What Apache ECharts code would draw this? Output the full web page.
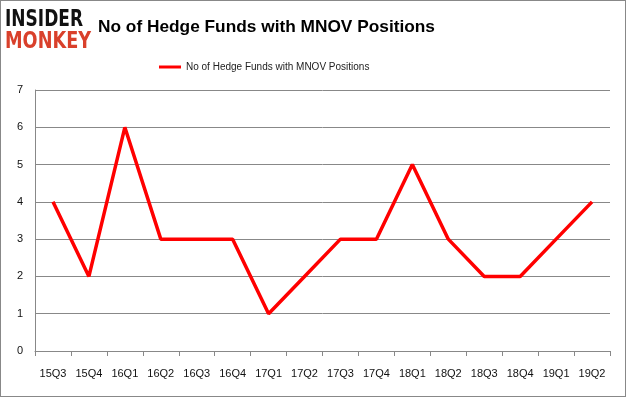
<!DOCTYPE html>
<html>
<head>
<meta charset="utf-8">
<script src="https://cdn.jsdelivr.net/npm/echarts@6/dist/echarts.min.js"></script>
<style>
  html, body { margin: 0; padding: 0; background: #fff; }
  #chart { width: 626px; height: 397px; box-sizing: border-box; border: 1px solid #888; }
</style>
</head>
<body>
<div id="chart"></div>
<script>
const quarters = ['15Q3', '15Q4', '16Q1', '16Q2', '16Q3', '16Q4', '17Q1', '17Q2',
  '17Q3', '17Q4', '18Q1', '18Q2', '18Q3', '18Q4', '19Q1', '19Q2']
const fundCounts = [4, 2, 6, 3, 3, 3, 1, 2, 3, 3, 5, 3, 2, 2, 3, 4]
const seriesName = 'No of Hedge Funds with MNOV Positions'

let myCharts = echarts.init(document.getElementById('chart'))
let option = {
  animation: false,
  title: {
    text: 'No of Hedge Funds with MNOV Positions',
    left: 92,
    top: 13,
    textStyle: { fontFamily: 'Liberation Sans', fontWeight: 'bold', fontSize: 17.3, color: '#000' }
  },
  graphic: [
    {
      type: 'text', x: 4, y: 19, scaleX: 0.74,
      style: { text: 'INSIDER', fontFamily: 'DejaVu Sans', fontWeight: 'bold', fontSize: 23, fill: '#111', verticalAlign: 'middle' }
    },
    {
      type: 'text', x: 4, y: 41, scaleX: 0.77,
      style: { text: 'MONKEY', fontFamily: 'DejaVu Sans', fontWeight: 'bold', fontSize: 23, fill: '#d9402b', verticalAlign: 'middle' }
    }
  ],
  legend: {
    data: [seriesName],
    top: 56,
    left: 153,
    itemWidth: 22,
    itemHeight: 3,
    icon: 'rect',
    itemGap: 3,
    textStyle: { fontFamily: 'Liberation Sans', fontSize: 10, color: '#222' }
  },
  grid: { left: 34, right: 15, top: 89, bottom: 45 },
  xAxis: {
    type: 'category',
    data: quarters,
    boundaryGap: true,
    axisLine: { lineStyle: { color: '#888' } },
    axisTick: { show: true, length: 5, lineStyle: { color: '#888' } },
    axisLabel: { color: '#111', fontFamily: 'Liberation Sans', fontSize: 11, margin: 17 }
  },
  yAxis: {
    type: 'value',
    min: 0,
    max: 7,
    interval: 1,
    axisLine: { show: true, lineStyle: { color: '#888' } },
    axisTick: { show: false },
    splitLine: { lineStyle: { color: '#888' } },
    axisLabel: { color: '#111', fontFamily: 'Liberation Sans', fontSize: 11, margin: 12 }
  },
  series: [
    {
      name: seriesName,
      type: 'line',
      data: fundCounts,
      symbol: 'none',
      lineStyle: { color: '#ff0000', width: 3.5 },
      itemStyle: { color: '#ff0000' }
    }
  ]
}
myCharts.setOption(option)
</script>
</body>
</html>
